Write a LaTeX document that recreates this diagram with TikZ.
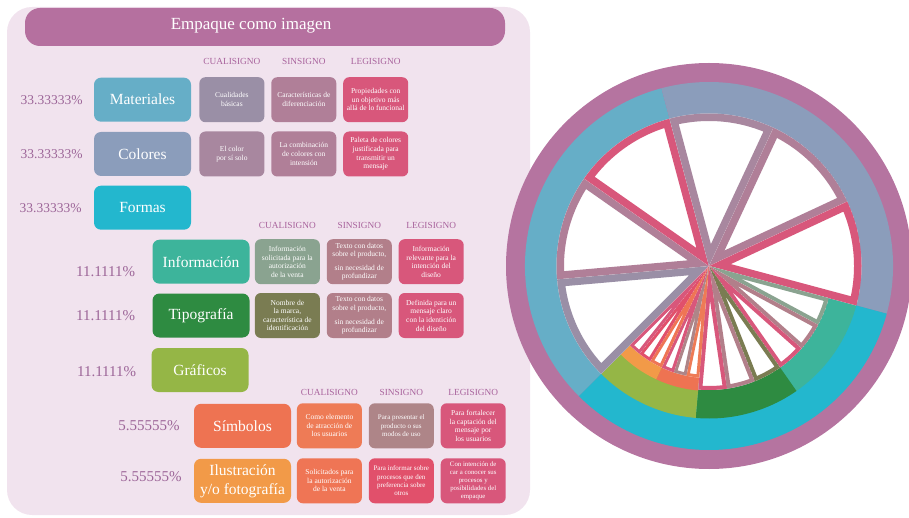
\documentclass[tikz,border=0pt]{standalone}
\usepackage{fontspec}
\setmainfont{Liberation Serif}
\usepackage{xcolor}
\usepackage{tikz}
\usetikzlibrary{positioning}
\definecolor{panelbg}{HTML}{F1E3EE}
\definecolor{barcol}{HTML}{B5709F}
\definecolor{ringcol}{HTML}{B574A0}
\definecolor{matcol}{HTML}{66AEC7}
\definecolor{colcol}{HTML}{8B9DBB}
\definecolor{forcol}{HTML}{23B7CE}
\definecolor{infcol}{HTML}{3DB49B}
\definecolor{tipcol}{HTML}{2E8B41}
\definecolor{gracol}{HTML}{95B646}
\definecolor{simcol}{HTML}{EE7352}
\definecolor{ilucol}{HTML}{F29A48}
\definecolor{cualA}{HTML}{9A8FA6}
\definecolor{cualB}{HTML}{A8879F}
\definecolor{sinsig}{HTML}{B07F98}
\definecolor{legisig}{HTML}{D8577B}
\definecolor{infcual}{HTML}{8AA390}
\definecolor{infsin}{HTML}{B27F8A}
\definecolor{tipcual}{HTML}{7A7C52}
\definecolor{simcual}{HTML}{EE7B56}
\definecolor{simsin}{HTML}{AE8588}
\definecolor{ilucual}{HTML}{EF7555}
\definecolor{ilusin}{HTML}{E1506B}
\definecolor{pctcol}{HTML}{9C6598}
\definecolor{headcol}{HTML}{A8629C}
\tikzstyle{titlebar} = [rectangle, rounded corners=15pt, minimum width=480pt, minimum height=38pt, inner sep=0pt, fill=barcol]
\tikzstyle{titlebox} = [rectangle, rounded corners=7pt, minimum width=97pt, minimum height=44pt, inner sep=0pt, align=center, text=white, font=\fontsize{15.5}{19}\selectfont]
\tikzstyle{leafbox} = [rectangle, rounded corners=6pt, minimum width=65pt, minimum height=45pt, inner sep=0pt, align=center, text=white, font=\fontsize{7.5}{8.6}\selectfont]
\tikzstyle{header} = [inner sep=0pt, text=headcol, font=\fontsize{9.3}{10}\selectfont]
\tikzstyle{percent} = [inner sep=0pt, text=pctcol, font=\fontsize{15}{16}\selectfont]

\begin{document}
\begin{tikzpicture}[x=1pt, y=1pt]
\useasboundingbox (0,0) rectangle (909,-518);
\fill[panelbg, rounded corners=25pt] (7,-7) rectangle (530,-515);

\node (bar) [titlebar] at (265,-27) {};
\node (title) [text=white, font=\fontsize{17}{20}\selectfont] at (251,-25.5) {Empaque como imagen};

% Materiales
\node (mat) [titlebox, fill=matcol] at (142.5,-99.7) {Materiales};
\node (matC) [leafbox, fill=cualA, right=8pt of mat] {Cualidades\\básicas};
\node (matS) [leafbox, fill=sinsig, right=6.5pt of matC] {Características de\\diferenciación};
\node (matL) [leafbox, fill=legisig, right=6.5pt of matS] {Propiedades con\\un objetivo más\\allá de lo funcional};
\node (matP) [percent, font=\fontsize{13.5}{16}\selectfont, left=11pt of mat] {33.33333\%};
\node (hC1) [header, above=12pt of matC] {CUALISIGNO};
\node (hS1) [header, above=12pt of matS] {SINSIGNO};
\node (hL1) [header, above=12pt of matL] {LEGISIGNO};

% Colores
\node (col) [titlebox, fill=colcol] at (142.5,-154) {Colores};
\node (colC) [leafbox, fill=cualB, right=8pt of col] {El color\\por sí solo};
\node (colS) [leafbox, fill=sinsig, right=6.5pt of colC] {La combinación\\de colores con\\intensión};
\node (colL) [leafbox, fill=legisig, right=6.5pt of colS] {Paleta de colores\\justificada para\\transmitir un\\mensaje};
\node (colP) [percent, font=\fontsize{13.5}{16}\selectfont, left=11pt of col] {33.33333\%};

% Formas
\node (for) [titlebox, fill=forcol] at (142.5,-207.7) {Formas};
\node (forP) [percent, font=\fontsize{13.5}{16}\selectfont, left=12pt of for] {33.33333\%};

% Informacion
\node (inf) [titlebox, fill=infcol] at (201,-261.7) {Información};
\node (infC) [leafbox, fill=infcual, right=5pt of inf] {Información\\solicitada para la\\autorización\\de la venta};
\node (infS) [leafbox, fill=infsin, right=6.5pt of infC] {Texto con datos\\sobre el producto,\\[5pt]sin necesidad de\\profundizar};
\node (infL) [leafbox, fill=legisig, right=6.5pt of infS] {Información\\relevante para la\\intención del\\diseño};
\node (infP) [percent, left=17pt of inf, yshift=-10pt] {11.1111\%};
\node (hC2) [header, above=10pt of infC] {CUALISIGNO};
\node (hS2) [header, above=10pt of infS] {SINSIGNO};
\node (hL2) [header, above=10pt of infL] {LEGISIGNO};

% Tipografia
\node (tip) [titlebox, fill=tipcol] at (201,-315.5) {Tipografía};
\node (tipC) [leafbox, fill=tipcual, right=5pt of tip] {Nombre de\\la marca,\\característica de\\identificación};
\node (tipS) [leafbox, fill=infsin, right=6.5pt of tipC] {Texto con datos\\sobre el producto,\\[5pt]sin necesidad de\\profundizar};
\node (tipL) [leafbox, fill=legisig, right=6.5pt of tipS] {Definida para un\\mensaje claro\\con la identición\\del diseño};
\node (tipP) [percent, left=17pt of tip] {11.1111\%};

% Graficos
\node (gra) [titlebox, fill=gracol] at (200,-370) {Gráficos};
\node (graP) [percent, left=15pt of gra, yshift=-1.5pt] {11.1111\%};

% Simbolos
\node (sim) [titlebox, fill=simcol] at (242.5,-425.8) {Símbolos};
\node (simC) [leafbox, fill=simcual, right=5.5pt of sim] {Como elemento\\de atracción de\\los usuarios};
\node (simS) [leafbox, fill=simsin, font=\fontsize{7}{8.4}\selectfont, right=6.5pt of simC] {Para presentar el\\producto o sus\\modos de uso};
\node (simL) [leafbox, fill=legisig, right=6.5pt of simS] {Para fortalecer\\la captación del\\mensaje por\\los usuarios};
\node (simP) [percent, left=14pt of sim] {5.55555\%};
\node (hC3) [header, above=7pt of simC] {CUALISIGNO};
\node (hS3) [header, above=7pt of simS] {SINSIGNO};
\node (hL3) [header, above=7pt of simL] {LEGISIGNO};

% Ilustracion
\node (ilu) [titlebox, fill=ilucol] at (242.5,-480.8) {Ilustración\\y/o fotografía};
\node (iluC) [leafbox, fill=ilucual, right=5.5pt of ilu] {Solicitados para\\la autorización\\de la venta};
\node (iluS) [leafbox, fill=ilusin, font=\fontsize{7}{8.2}\selectfont, right=6.5pt of iluC] {Para informar sobre\\procesos que den\\preferencia sobre\\otros};
\node (iluL) [leafbox, fill=legisig, font=\fontsize{6.8}{7.9}\selectfont, right=6.5pt of iluS] {Con intención de\\car a conocer sus\\procesos y\\posibilidades del\\empaque};
\node (iluP) [percent, left=12pt of ilu, yshift=4pt] {5.55555\%};

% sunburst
\coordinate (C) at (709,-266);
\fill[ringcol] (C) circle[radius=203];
\fill[matcol] (C) -- +(105:184) arc[start angle=105, end angle=225, radius=184] -- cycle;
\fill[colcol] (C) -- +(-15:184) arc[start angle=-15, end angle=105, radius=184] -- cycle;
\fill[forcol] (C) -- +(-135:184) arc[start angle=-135, end angle=-15, radius=184] -- cycle;
\fill[infcol] (C) -- +(-55:152.5) arc[start angle=-55, end angle=-15, radius=152.5] -- cycle;
\fill[tipcol] (C) -- +(-95:152.5) arc[start angle=-95, end angle=-55, radius=152.5] -- cycle;
\fill[gracol] (C) -- +(-135:152.5) arc[start angle=-135, end angle=-95, radius=152.5] -- cycle;
\fill[simcol] (C) -- +(-115:125) arc[start angle=-115, end angle=-95, radius=125] -- cycle;
\fill[ilucol] (C) -- +(-135:125) arc[start angle=-135, end angle=-115, radius=125] -- cycle;

\foreach \a/\b/\r/\w/\c in {
  185/225/152.5/15pt/cualA, 145/185/152.5/15pt/sinsig, 105/145/152.5/15pt/legisig,
  65/105/152.5/15pt/cualB, 25/65/152.5/15pt/sinsig, -15/25/152.5/15pt/legisig,
  -28.33/-15/124/8pt/infcual, -41.67/-28.33/124/8pt/infsin, -55/-41.67/124/8pt/legisig,
  -68.33/-55/124/8pt/tipcual, -81.67/-68.33/124/8pt/infsin, -95/-81.67/124/8pt/legisig,
  -101.67/-95/112/6pt/simcual, -108.33/-101.67/112/6pt/simsin, -115/-108.33/112/6pt/legisig,
  -121.67/-115/112/6pt/ilucual, -128.33/-121.67/112/6pt/ilusin, -135/-128.33/112/6pt/legisig}
{
  \begin{scope}
    \clip (C) -- +(\a:\r) arc[start angle=\a, end angle=\b, radius=\r] -- cycle;
    \fill[white] (C) -- +(\a:\r) arc[start angle=\a, end angle=\b, radius=\r] -- cycle;
    \draw[\c, line width=\w] (C) -- +(\a:\r) arc[start angle=\a, end angle=\b, radius=\r] -- cycle;
  \end{scope}
}
\end{tikzpicture}
\end{document}
